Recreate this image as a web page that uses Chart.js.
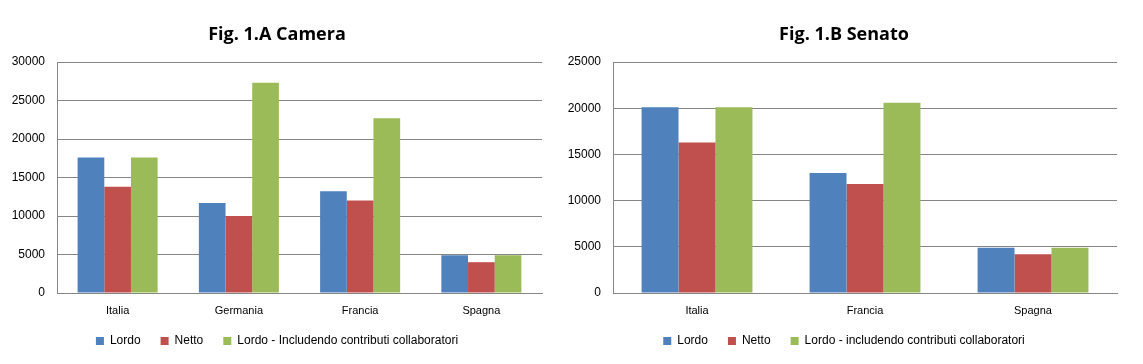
<!DOCTYPE html>
<html><head><meta charset="utf-8">
<script src="https://cdn.jsdelivr.net/npm/chart.js@4"></script>
<style>
html,body{margin:0;padding:0;background:#fff;width:1143px;height:364px;overflow:hidden}
.box{position:absolute;top:0;height:364px}
#a{left:0;width:555px}
#b{left:560px;width:575px}
</style></head><body>
<div class="box" id="a"><canvas id="ca"></canvas></div>
<div class="box" id="b"><canvas id="cb"></canvas></div>
<script>
const seriesNames = ['Lordo', 'Netto', 'Lordo - Includendo contributi collaboratori'];
const seriesNamesB = ['Lordo', 'Netto', 'Lordo - includendo contributi collaboratori'];
const colors = ['#4F81BD', '#C0504D', '#9BBB59'];

const camCategories = ['Italia', 'Germania', 'Francia', 'Spagna'];
const camLordo = [17600, 11700, 13200, 4900];
const camNetto = [13800, 10000, 12000, 4000];
const camLordoContrib = [17600, 27300, 22700, 4900];
const camTicks = {min: 0, max: 30000, step: 5000};

const senCategories = ['Italia', 'Francia', 'Spagna'];
const senLordo = [20100, 13000, 4900];
const senNetto = [16300, 11800, 4200];
const senLordoContrib = [20100, 20600, 4900];
const senTicks = {min: 0, max: 25000, step: 5000};

const FONT = 'Liberation Sans, Arial, sans-serif';

// let axis labels draw outside their (tightened) scale boxes
const noLabelClip = {
  id: 'noLabelClip',
  beforeDraw(chart) {
    Object.values(chart.scales).forEach(s => { s._computeLabelArea = () => undefined; });
  }
};

function makeChart(id, title, cats, vals, names, ticks, leftPad, axisWidth, rightPad) {
  return new Chart(document.getElementById(id), {
    type: 'bar',
    data: {
      labels: cats,
      datasets: vals.map((v, i) => ({
        label: names[i], data: v, backgroundColor: colors[i], borderWidth: 0,
        categoryPercentage: 0.66, barPercentage: 1.0
      }))
    },
    plugins: [noLabelClip],
    options: {
      responsive: true, maintainAspectRatio: false, animation: false,
      layout: {padding: {left: leftPad, right: rightPad, top: 0, bottom: 7}},
      plugins: {
        title: {display: true, text: title, color: '#000',
          font: {family: 'Open Sans, sans-serif', size: 18, weight: 'bold'},
          padding: {top: 24, bottom: 16.4}},
        legend: {position: 'bottom',
          labels: {boxWidth: 8, boxHeight: 8, color: '#000', padding: 20,
            font: {family: FONT, size: 12}}},
        tooltip: {enabled: false}
      },
      scales: {
        x: {
          afterFit: s => { s.height = 22; },
          grid: {display: false, drawTicks: false},
          border: {display: true, color: '#868686'},
          ticks: {color: '#000', font: {family: FONT, size: 11}, padding: 11}
        },
        y: {
          min: ticks.min, max: ticks.max,
          afterFit: s => { s.width = axisWidth; },
          grid: {color: '#868686', lineWidth: 1, drawTicks: false},
          border: {display: true, color: '#868686'},
          ticks: {stepSize: ticks.step, color: '#000', font: {family: FONT, size: 12}, padding: 12,
            callback: v => String(v)}
        }
      }
    }
  });
}

makeChart('ca', 'Fig. 1.A Camera', camCategories, [camLordo, camNetto, camLordoContrib], seriesNames, camTicks, 12, 45, 13);
makeChart('cb', 'Fig. 1.B Senato', senCategories, [senLordo, senNetto, senLordoContrib], seriesNamesB, senTicks, 11, 42, 18);
</script>
</body></html>
